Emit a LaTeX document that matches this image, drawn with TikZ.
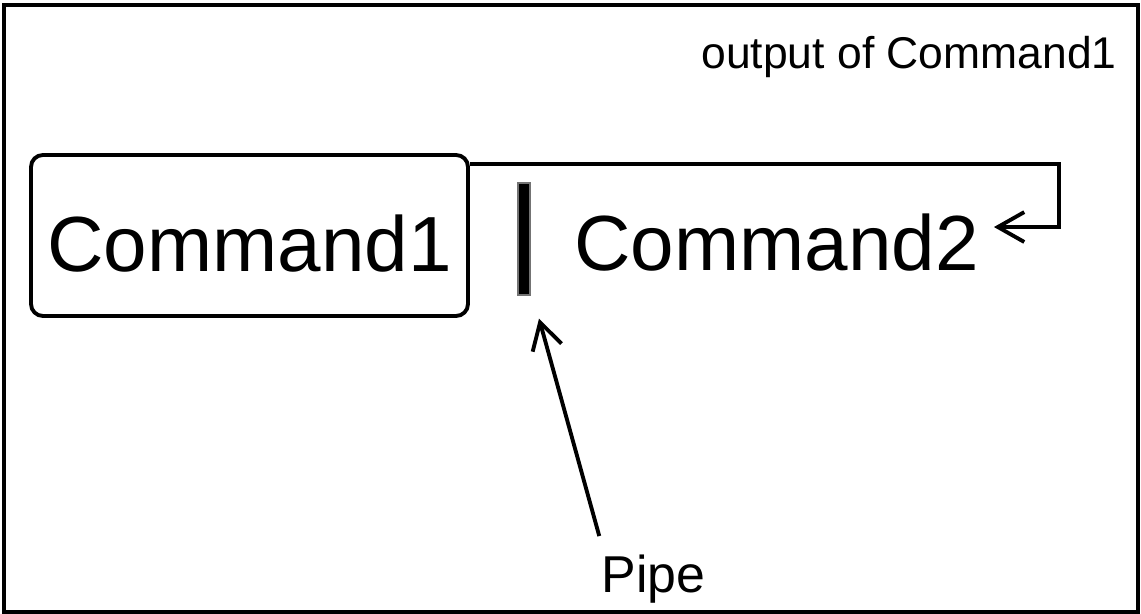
\documentclass[tikz,border=0pt]{standalone}
\usepackage{fontspec}
\setmainfont{Liberation Sans}
\usetikzlibrary{arrows.meta,positioning}
\tikzset{
  cmdbox/.style={draw,line width=2.2pt,rounded corners=6.8pt,minimum width=8.74cm,
    minimum height=3.22cm,inner sep=0pt,text height=1.44cm,text depth=0pt,
    font=\fontsize{44.5}{52}\selectfont},
  cmdtext/.style={inner sep=.3cm,font=\fontsize{44.5}{52}\selectfont},
  pipebar/.style={fill=black,draw=black!55,line width=.6pt,minimum width=.24cm,
    minimum height=2.24cm,inner sep=0pt},
  note/.style={inner sep=0pt},
  flow/.style={-{Straight Barb[length=15pt,width=17pt]},line width=2.2pt}
}

\begin{document}
\begin{tikzpicture}[x=1cm,y=1cm]
  \useasboundingbox (0,0) rectangle (22.82,12.28);
  \draw[line width=2pt] (.08,.04) rectangle (22.76,12.18);

  \node[cmdbox] (cmd1) at (4.99,7.57) {Command1};
  \node[pipebar] (bar) at (10.48,7.50) {};
  \node[cmdtext,anchor=base] (cmd2) at (15.53,6.86) {Command2};

  \node[note,anchor=base east,font=\fontsize{25.3}{30}\selectfont] (outlbl) at (22.34,10.90)
       {output of Command1};
  \node[note,anchor=base,font=\fontsize{29.5}{35}\selectfont] (pipelbl) at (13.07,.42) {Pipe};

  % output of the first command fed back into the second
  \draw[flow] ([yshift=-.22cm]cmd1.north east) -- ++(11.78,0) |- ([yshift=.32cm]cmd2.east);
  \draw[flow] ([shift={(-.04,.38)}]pipelbl.north west) -- ([shift={(.3,-.46)}]bar.south);
\end{tikzpicture}
\end{document}
